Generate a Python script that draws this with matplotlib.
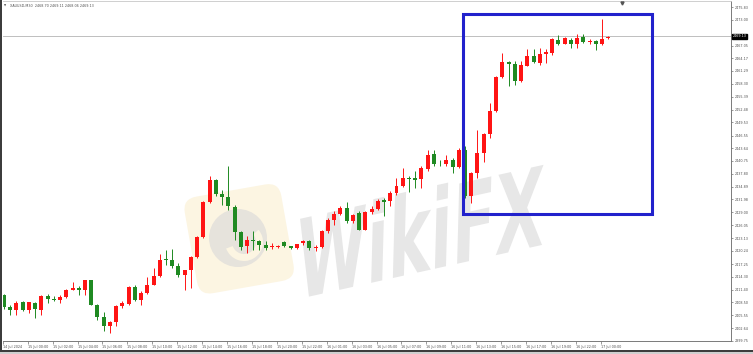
import matplotlib
matplotlib.use("Agg")
import matplotlib.pyplot as plt
from matplotlib.patches import Rectangle, FancyBboxPatch, Circle, Wedge, PathPatch
from matplotlib.transforms import Affine2D
from matplotlib.textpath import TextPath
from matplotlib.font_manager import FontProperties

# ---------------- data (XAUUSD, M30) ----------------
opens = [2410.24, 2407.43, 2406.67, 2408.49, 2406.82, 2408.34, 2406.82, 2410.01, 2409.18, 2408.95,
         2409.63, 2411.38, 2411.68, 2411.23, 2413.51, 2407.96, 2405.07, 2403.02, 2403.93, 2407.58,
         2408.19, 2411.91, 2409.10, 2410.62, 2412.52, 2414.57, 2418.45, 2418.07, 2416.70, 2414.80,
         2415.94, 2418.83, 2423.31, 2431.37, 2436.31, 2433.27, 2432.43, 2430.23, 2424.45, 2421.26,
         2422.78, 2422.40, 2421.56, 2421.11, 2421.11, 2422.17, 2421.26, 2420.88, 2422.02, 2422.55,
         2420.88, 2421.11, 2424.68, 2427.19, 2428.71, 2430.00, 2426.96, 2428.86, 2425.06, 2429.01,
         2429.77, 2431.75, 2431.52, 2433.42, 2434.94, 2436.76, 2436.84, 2436.61, 2438.89, 2442.31,
         2440.11, 2440.03, 2441.02, 2439.35, 2443.30, 2432.66, 2437.98, 2442.54, 2446.95, 2452.04,
         2459.79, 2463.29, 2462.83, 2458.88, 2462.45, 2464.58, 2463.06, 2465.19, 2465.34, 2468.38,
         2467.47, 2468.38, 2467.32, 2468.91, 2467.92, 2468.08, 2467.47, 2468.69]
highs = [2410.47, 2407.96, 2408.72, 2408.72, 2408.49, 2408.49, 2410.24, 2410.47, 2409.86, 2410.24,
         2411.53, 2413.05, 2412.14, 2413.66, 2413.66, 2408.11, 2406.21, 2404.16, 2407.81, 2408.72,
         2412.14, 2412.37, 2411.00, 2414.19, 2416.32, 2419.51, 2420.50, 2420.65, 2417.46, 2415.94,
         2419.13, 2423.54, 2431.67, 2437.37, 2436.61, 2434.18, 2439.65, 2430.76, 2424.68, 2423.54,
         2424.68, 2422.78, 2422.40, 2422.02, 2421.64, 2422.40, 2421.41, 2421.87, 2422.78, 2422.78,
         2421.64, 2425.06, 2427.72, 2429.24, 2430.38, 2431.29, 2428.71, 2429.24, 2429.24, 2430.38,
         2432.05, 2432.28, 2433.80, 2436.84, 2439.12, 2437.22, 2438.36, 2439.50, 2443.30, 2443.30,
         2441.02, 2442.16, 2441.40, 2443.68, 2444.06, 2438.13, 2447.71, 2447.10, 2453.94, 2460.02,
         2465.34, 2463.44, 2463.44, 2463.44, 2466.25, 2466.25, 2466.48, 2466.25, 2468.76, 2469.52,
         2468.99, 2468.76, 2469.75, 2469.67, 2468.53, 2468.38, 2473.09, 2469.14]
lows = [2407.05, 2405.68, 2405.68, 2406.44, 2406.06, 2404.92, 2405.68, 2408.34, 2408.72, 2408.34,
        2409.40, 2411.23, 2410.24, 2410.24, 2407.81, 2404.54, 2401.88, 2401.50, 2403.02, 2407.20,
        2407.96, 2408.72, 2407.96, 2410.47, 2412.37, 2414.27, 2417.08, 2416.32, 2414.27, 2411.38,
        2411.76, 2418.60, 2423.16, 2431.14, 2432.66, 2430.76, 2429.62, 2422.78, 2420.50, 2419.74,
        2420.50, 2420.50, 2420.50, 2420.65, 2420.80, 2421.03, 2420.73, 2420.65, 2421.64, 2420.50,
        2420.12, 2420.88, 2424.30, 2426.20, 2428.48, 2426.58, 2426.58, 2424.91, 2424.91, 2428.71,
        2429.47, 2428.10, 2430.38, 2433.04, 2434.79, 2433.57, 2434.56, 2434.56, 2438.36, 2439.50,
        2439.50, 2439.65, 2437.98, 2439.12, 2432.28, 2431.14, 2436.84, 2440.41, 2445.96, 2451.81,
        2459.64, 2457.74, 2458.12, 2458.65, 2462.30, 2463.06, 2462.68, 2463.06, 2464.96, 2467.24,
        2467.32, 2466.48, 2466.48, 2467.62, 2467.47, 2466.10, 2467.24, 2468.53]
closes = [2407.35, 2406.67, 2408.34, 2406.82, 2408.49, 2406.97, 2409.86, 2409.25, 2409.02, 2409.63,
          2411.38, 2411.68, 2411.30, 2413.51, 2407.96, 2405.07, 2403.02, 2404.01, 2407.58, 2408.34,
          2411.91, 2409.10, 2410.62, 2412.52, 2414.57, 2418.22, 2418.14, 2416.70, 2414.80, 2415.94,
          2418.83, 2423.31, 2431.37, 2436.31, 2433.27, 2432.43, 2430.38, 2424.45, 2421.11, 2422.78,
          2422.55, 2421.64, 2420.96, 2421.41, 2421.41, 2421.26, 2420.88, 2421.72, 2422.40, 2420.88,
          2421.18, 2424.68, 2427.19, 2428.71, 2430.00, 2426.96, 2428.33, 2425.06, 2429.01, 2429.77,
          2431.67, 2431.37, 2433.42, 2434.94, 2436.84, 2436.54, 2436.46, 2439.12, 2442.16, 2440.11,
          2439.96, 2441.02, 2439.35, 2443.30, 2432.66, 2437.98, 2442.54, 2446.95, 2452.04, 2459.79,
          2463.21, 2462.83, 2458.88, 2462.68, 2464.58, 2463.21, 2465.19, 2465.49, 2468.53, 2467.47,
          2468.76, 2467.32, 2468.76, 2467.92, 2468.08, 2467.47, 2468.61, 2468.99]

price_ticks = [2475.83, 2473.00, 2467.05, 2464.17, 2461.29, 2458.30, 2455.39, 2452.48, 2449.53,
               2446.55, 2443.64, 2440.75, 2437.80, 2434.89, 2431.98, 2429.00, 2426.05, 2423.13,
               2420.24, 2417.25, 2414.30, 2411.40, 2408.50, 2405.55, 2402.64, 2399.75]
time_labels = ["14 Jul 2024", "15 Jul 00:00", "15 Jul 02:00", "15 Jul 04:00", "15 Jul 06:00",
               "15 Jul 08:00", "15 Jul 10:00", "15 Jul 12:00", "15 Jul 14:00", "15 Jul 16:00",
               "15 Jul 18:00", "15 Jul 20:00", "15 Jul 22:00", "16 Jul 01:00", "16 Jul 03:00",
               "16 Jul 05:00", "16 Jul 07:00", "16 Jul 09:00", "16 Jul 11:00", "16 Jul 13:00",
               "16 Jul 15:00", "16 Jul 17:00", "16 Jul 19:00", "16 Jul 22:00", "17 Jul 00:00"]
bars_per_label = 4
last_price = 2469.13
header = "XAUUSD,M30  2468.70 2469.11 2468.06 2469.13"
watermark = "WikiFX"
# highlighted zone (bar index range, price range)
zone_x = (73.6, 103.96)
zone_y = (2428.71, 2474.31)

# ---------------- figure ----------------
W, H = 753, 354
fig = plt.figure(figsize=(W / 100, H / 100), dpi=100)
fig.patch.set_facecolor("white")

pix = Affine2D().scale(1 / W, 1 / H) + fig.transFigure

# watermark logo (behind the chart)
logo_rot = Affine2D().rotate_deg_around(238, 116, 10).scale(1 / W, 1 / H) + fig.transFigure
fig.patches.append(FancyBboxPatch((190, 66), 98, 98, boxstyle="round,pad=0,rounding_size=14",
                                  fc="#fcf5e2", ec="none", transform=logo_rot, zorder=-2))
fig.patches.append(Circle((238, 116), 29, fc="#e6e3dc", ec="none", transform=pix, zorder=-1.5))
fig.patches.append(Wedge((244, 112), 19, 200, 40, width=7, fc="#fcf5e2", ec="none",
                         transform=pix, zorder=-1.4))

# watermark text as a stretched, slanted path
tp = TextPath((0, 0), watermark, size=1, prop=FontProperties(family="DejaVu Sans", weight="bold"))
ext = tp.get_extents()
wm_tr = (Affine2D().translate(-(ext.x0 + ext.width / 2), 0)
         .scale(250 / ext.width, 78 / 0.73)
         .skew_deg(14, 0)
         .rotate_deg(12.5)
         .translate(420, 82))
fig.patches.append(PathPatch(tp, transform=wm_tr + pix, fc="#e7e7e7", ec="none", zorder=-1))

ax = fig.add_axes([2.5 / W, 13 / H, (731 - 2.5) / W, 340 / H])
ax.patch.set_visible(False)
ax.set_xlim(-0.24, 116.69)
ax.set_ylim(2399.70, 2477.22)

up_col, dn_col = "#ff1414", "#1f8a22"
n = len(opens)
xs = list(range(n))
cols = [up_col if c >= o else dn_col for o, c in zip(opens, closes)]
ax.vlines(xs, lows, highs, colors=cols, lw=0.7, zorder=3)
bottoms = [min(o, c) for o, c in zip(opens, closes)]
heights = [max(abs(c - o), 0.18) for o, c in zip(opens, closes)]
ax.bar(xs, heights, bottom=bottoms, width=0.64, color=cols, edgecolor="none", zorder=4)

# current price line + label
ax.axhline(last_price, color="#b4b4b4", lw=0.6, zorder=2)
ax.text(1.002, last_price, f"{last_price:.2f}", transform=ax.get_yaxis_transform(),
        ha="left", va="center", fontsize=2.4, color="white", zorder=6,
        bbox=dict(boxstyle="square,pad=0.25", fc="black", ec="black"))

# highlight box
ax.add_patch(Rectangle((zone_x[0], zone_y[0]), zone_x[1] - zone_x[0], zone_y[1] - zone_y[0],
                       fill=False, ec="#2222cc", lw=2.2, zorder=5, clip_on=False))

# chart shift marker
ax.plot([99.2], [2476.75], marker="v", ms=2.2, color="#555555", clip_on=False, zorder=6)

# axes styling
ax.spines["left"].set_visible(False)
ax.spines["top"].set_color("#c8c8c8")
ax.spines["top"].set_linewidth(0.6)
ax.spines["right"].set_color("#7a7a7a")
ax.spines["right"].set_linewidth(0.7)
ax.spines["bottom"].set_color("#7a7a7a")
ax.spines["bottom"].set_linewidth(0.7)

ax.yaxis.tick_right()
ax.set_yticks(price_ticks)
ax.set_yticklabels([f"{v:.2f}" for v in price_ticks])
ax.tick_params(axis="y", direction="out", length=1.6, width=0.5, color="#707070",
               labelsize=2.4, labelcolor="#505050", pad=0.8)

xt = [bars_per_label * k - 0.2 for k in range(len(time_labels))]
ax.set_xticks(xt)
ax.set_xticklabels(time_labels)
for lab in ax.get_xticklabels():
    lab.set_ha("left")
ax.tick_params(axis="x", direction="out", length=1.8, width=0.5, color="#707070",
               labelsize=2.4, labelcolor="#505050", pad=1.0)

# header
fig.text(10 / W, 1 - 6 / H, header, fontsize=2.4, color="#505050", ha="left", va="center")
fig.text(5 / W, 1 - 6 / H, "\u25bc", fontsize=2.0, color="#505050", ha="center", va="center")

# outer frame
fig.patches.append(Rectangle((0, 0), 2.4, H, fc="#3c3c3c", ec="none", transform=pix, zorder=10))
fig.patches.append(Rectangle((0, 2), W, 2.2, fc="#3c3c3c", ec="none", transform=pix, zorder=10))
fig.patches.append(Rectangle((0, 0), W, 2, fc="#cfcfcf", ec="none", transform=pix, zorder=10))

fig.savefig("out.png", dpi=100)
